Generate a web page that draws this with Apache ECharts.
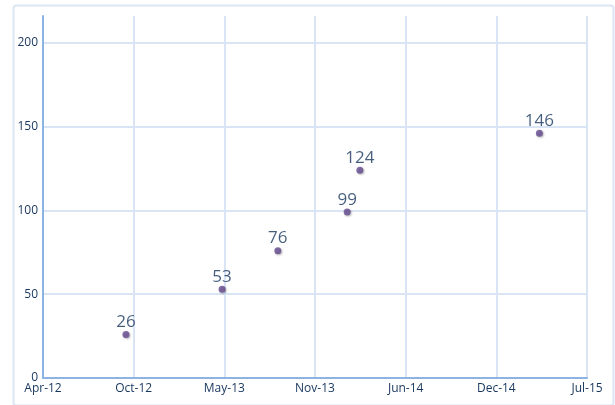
<!DOCTYPE html>
<html>
<head>
<meta charset="utf-8">
<script src="https://cdn.jsdelivr.net/npm/echarts@6/dist/echarts.min.js"></script>
<style>
  html, body { margin: 0; padding: 0; background: #fff; }
  #chart { width: 615px; height: 405px; }
</style>
</head>
<body>
<div id="chart"></div>
<script>
// dates of each observation and the value there
const dates = ["2012-10-01", "2013-05-01", "2013-09-01", "2014-02-01", "2014-03-01", "2015-04-01"];
const values = [26, 53, 76, 99, 124, 146];
const yTicks = [0, 50, 100, 150, 200];
const MONTHS = ["Jan","Feb","Mar","Apr","May","Jun","Jul","Aug","Sep","Oct","Nov","Dec"];

// x axis works in spreadsheet day serials (41000 = 1 Apr 2012), step of 200 days
function toSerial(s) {
  const ms = Date.parse(s + "T00:00:00Z");
  return Math.round(ms / 86400000) + 25569;
}
function serialLabel(v) {
  const d = new Date((v - 25569) * 86400000);
  return MONTHS[d.getUTCMonth()] + "-" + String(d.getUTCFullYear()).slice(2);
}

const textColor = "#17365d";
const chart = echarts.init(document.getElementById("chart"));
chart.setOption({
  animation: false,
  graphic: [{
    type: "rect",
    left: 11, top: 3,
    shape: { width: 600, height: 400, r: 3 },
    style: { fill: "none", stroke: "#dce6f4", lineWidth: 2 },
    silent: true,
  }],
  grid: { left: 43, right: 28, top: 16, bottom: 27, containLabel: false },
  xAxis: {
    type: "value",
    min: 41000,
    max: 42200,
    interval: 200,
    axisLine: { show: true, lineStyle: { color: "#8db3e2", width: 2 } },
    axisTick: { show: false },
    splitLine: { show: true, lineStyle: { color: "#d9e4f4", width: 2 } },
    axisLabel: {
      color: textColor, fontFamily: "Open Sans", fontSize: 12, margin: 5,
      formatter: serialLabel,
    },
  },
  yAxis: {
    type: "value",
    min: yTicks[0],
    max: 216,
    interval: 50,
    axisLine: { show: true, lineStyle: { color: "#8db3e2", width: 2 } },
    axisTick: { show: false },
    splitLine: { show: true, showMaxLine: false, lineStyle: { color: "#d9e4f4", width: 2 } },
    axisLabel: {
      color: textColor, fontFamily: "Open Sans", fontSize: 12, margin: 5,
      showMaxLabel: false,
      formatter: (v) => (yTicks.includes(v) ? String(v) : ""),
    },
  },
  series: [{
    type: "scatter",
    symbol: "circle",
    symbolSize: 7,
    data: dates.map((d, i) => [toSerial(d), values[i]]),
    itemStyle: {
      color: "#644a8e",
      shadowColor: "rgba(0,0,0,0.35)",
      shadowBlur: 2,
      shadowOffsetX: 1,
      shadowOffsetY: 1,
    },
    label: {
      show: true,
      position: "top",
      distance: 0,
      color: textColor,
      fontFamily: "Open Sans",
      fontSize: 17,
      formatter: (p) => String(p.value[1]),
    },
  }],
});
</script>
</body>
</html>
